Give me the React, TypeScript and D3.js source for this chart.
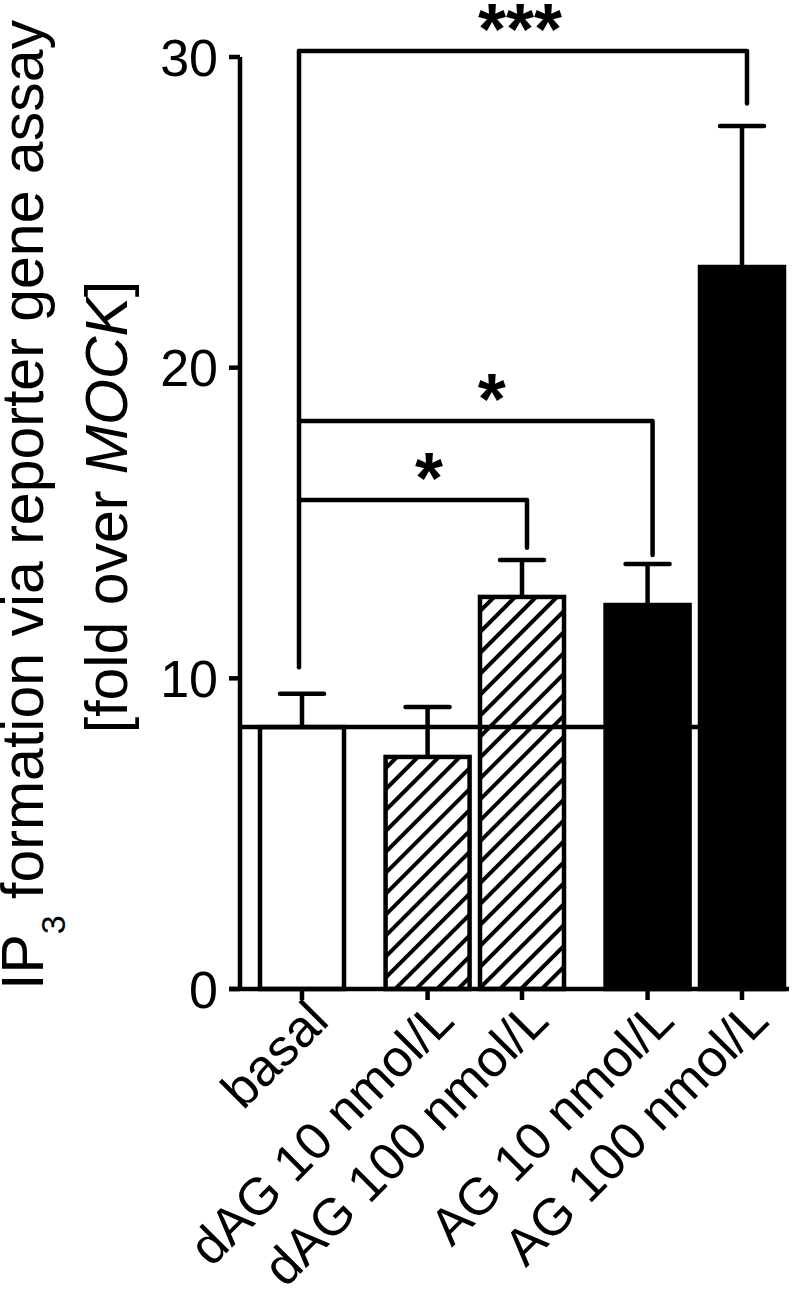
import React from "react";
import * as d3 from "d3";

const categories = ["basal", "dAG 10 nmol/L", "dAG 100 nmol/L", "AG 10 nmol/L", "AG 100 nmol/L"];
const groups = ["basal", "dAG", "dAG", "AG", "AG"];
const means = [8.43, 7.47, 12.62, 12.36, 23.24];
const errors = [1.07, 1.61, 1.19, 1.32, 4.54];
const yTicks = [0, 10, 20, 30];
const referenceValue = 10.36; // bottom of the basal comparison stem
const brackets = [
  { from: 0, to: 2, level: 15.74, end: 14.2, label: "*" },
  { from: 0, to: 3, level: 18.28, end: 13.97, label: "*" },
  { from: 0, to: 4, level: 30.19, end: 28.5, label: "***" },
];

const W = 810;
const H = 1290;
const FONT = "'Liberation Sans', Arial, Helvetica, sans-serif";
const SW = 4.5;

export default function App() {
  const groupGap = 0.33;
  const slots: number[] = [];
  let s = 0;
  groups.forEach((g, i) => {
    if (i > 0) s += 1 + (g !== groups[i - 1] ? groupGap : 0);
    slots.push(s);
  });
  const x = d3.scaleLinear().domain([slots[0], slots[slots.length - 1]]).range([302, 742]);
  const y = d3.scaleLinear().domain([0, 30]).range([989, 57]);
  const axisX = 240;
  const barW = 84;
  const tickLen = 11;

  const fillFor = (g: string) => (g === "basal" ? "#fff" : g === "dAG" ? "url(#hatch)" : "#000");
  const lastLeft = x(slots[slots.length - 1]) - barW / 2;

  return (
    <svg width={W} height={H} style={{ position: "absolute", left: 0, top: 0, background: "#fff" }}>
      <defs>
        <pattern id="hatch" width={14.8} height={14.8} patternUnits="userSpaceOnUse" patternTransform="rotate(45)">
          <rect width={14.8} height={14.8} fill="#fff" />
          <rect x={0} y={0} width={4} height={14.8} fill="#000" />
        </pattern>
      </defs>
      <rect width={W} height={H} fill="#fff" />

      {means.map((m, i) => (
        <rect
          key={"b" + i}
          x={x(slots[i]) - barW / 2}
          y={y(m)}
          width={barW}
          height={y(0) - y(m)}
          fill={fillFor(groups[i])}
          stroke="#000"
          strokeWidth={SW}
        />
      ))}

      {means.map((m, i) => {
        const cx = x(slots[i]);
        const top = y(m + errors[i]);
        return (
          <g key={"e" + i} stroke="#000" strokeWidth={SW}>
            <line x1={cx} x2={cx} y1={y(m)} y2={top} />
            <line x1={cx - 22} x2={cx + 22} y1={top} y2={top} strokeLinecap="round" />
          </g>
        );
      })}

      <line x1={axisX} x2={lastLeft} y1={y(means[0])} y2={y(means[0])} stroke="#000" strokeWidth={SW} />

      <line
        x1={x(slots[0]) - 3}
        x2={x(slots[0]) - 3}
        y1={y(referenceValue)}
        y2={y(d3.max(brackets, (b) => b.level) as number)}
        stroke="#000"
        strokeWidth={SW}
        strokeLinecap="round"
      />
      {brackets.map((b, i) => {
        const x0 = x(slots[b.from]) - 3;
        const x1 = x(slots[b.to]) + 5;
        const yl = y(b.level);
        const tx = b.label === "*" ? (x0 + x1) / 2 + 16 : (x0 + x1) / 2 - 3;
        return (
          <g key={"br" + i}>
            <path
              d={`M${x0},${yl}H${x1}V${y(b.end)}`}
              fill="none"
              stroke="#000"
              strokeWidth={SW}
              strokeLinecap="round"
              strokeLinejoin="round"
            />
            <text x={tx} y={yl + 3} textAnchor="middle" fontFamily={FONT} fontWeight="bold" fontSize={72}>
              {b.label}
            </text>
          </g>
        );
      })}

      <line x1={axisX} x2={axisX} y1={y(30)} y2={y(0)} stroke="#000" strokeWidth={SW} />
      {yTicks.map((t) => (
        <g key={"yt" + t}>
          <line x1={axisX - tickLen} x2={axisX} y1={y(t)} y2={y(t)} stroke="#000" strokeWidth={SW} />
          <text x={axisX - 22} y={y(t)} dy="0.36em" textAnchor="end" fontFamily={FONT} fontSize={52}>
            {t}
          </text>
        </g>
      ))}

      <line x1={axisX - tickLen} x2={789} y1={y(0)} y2={y(0)} stroke="#000" strokeWidth={SW} />
      {categories.map((c, i) => {
        const cx = x(slots[i]);
        return (
          <g key={"xt" + i}>
            <line x1={cx} x2={cx} y1={y(0)} y2={y(0) + tickLen} stroke="#000" strokeWidth={SW} />
            <text
              transform={`translate(${cx + 29},${y(0) + 34}) rotate(-45)`}
              textAnchor="end"
              fontFamily={FONT}
              fontSize={52}
            >
              {c}
            </text>
          </g>
        );
      })}

      <text transform="translate(43,505) rotate(-90)" textAnchor="middle" fontFamily={FONT} fontSize={59}>
        IP
        <tspan fontSize={34} dy={22}>3</tspan>
        <tspan dy={-22}> formation via reporter gene assay</tspan>
      </text>
      <text transform="translate(127,507) rotate(-90)" textAnchor="middle" fontFamily={FONT} fontSize={59}>
        [fold over <tspan fontStyle="italic">MOCK</tspan>]
      </text>
    </svg>
  );
}
